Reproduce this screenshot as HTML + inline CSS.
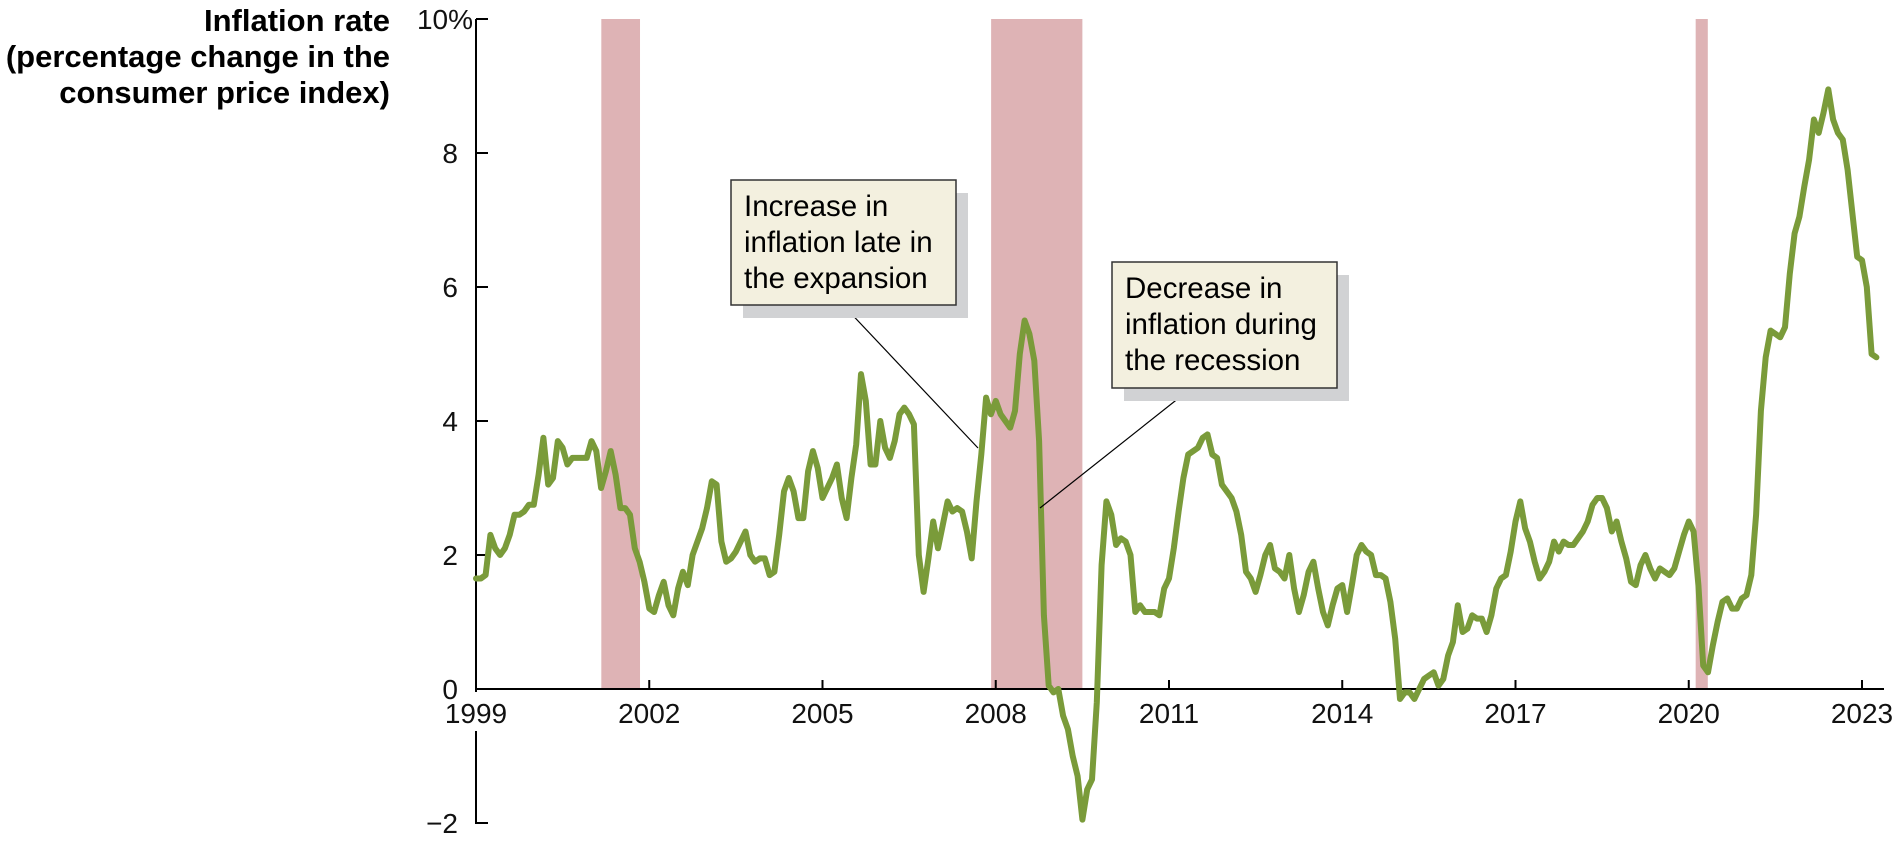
<!DOCTYPE html>
<html><head><meta charset="utf-8"><style>
html,body{margin:0;padding:0;background:#fff;}
svg{display:block;font-family:"Liberation Sans",Arial,sans-serif;}
</style></head><body>
<svg id="chart" width="1899" height="841" viewBox="0 0 1899 841">
<g id="rec"></g>
<g id="axes"></g>
<g id="series"></g>
<g id="notes"></g>
</svg>
<script>
const startYear = 1999;
const inflation = [
1.65,1.65,1.7,2.3,2.1,2.0,2.1,2.3,2.6,2.6,2.65,2.75,
2.75,3.2,3.75,3.05,3.15,3.7,3.6,3.35,3.45,3.45,3.45,3.45,
3.7,3.55,3.0,3.25,3.55,3.2,2.7,2.7,2.6,2.1,1.9,1.6,
1.2,1.15,1.4,1.6,1.25,1.1,1.5,1.75,1.55,2.0,2.2,2.4,
2.7,3.1,3.05,2.2,1.9,1.95,2.05,2.2,2.35,2.0,1.9,1.95,
1.95,1.7,1.75,2.3,2.95,3.15,2.95,2.55,2.55,3.25,3.55,3.3,
2.85,3.0,3.15,3.35,2.85,2.55,3.15,3.65,4.7,4.3,3.35,3.35,
4.0,3.6,3.45,3.7,4.1,4.2,4.1,3.95,2.0,1.45,1.95,2.5,
2.1,2.45,2.8,2.65,2.7,2.65,2.35,1.95,2.8,3.5,4.35,4.1,
4.3,4.1,4.0,3.9,4.15,5.0,5.5,5.3,4.9,3.7,1.1,0.05,
-0.05,0.0,-0.4,-0.6,-1.0,-1.3,-1.95,-1.5,-1.35,-0.2,1.85,2.8,
2.6,2.15,2.25,2.2,2.0,1.15,1.25,1.15,1.15,1.15,1.1,1.5,
1.65,2.1,2.65,3.15,3.5,3.55,3.6,3.75,3.8,3.5,3.45,3.05,
2.95,2.85,2.65,2.3,1.75,1.65,1.45,1.7,2.0,2.15,1.8,1.75,
1.65,2.0,1.5,1.15,1.4,1.75,1.9,1.5,1.15,0.95,1.25,1.5,
1.55,1.15,1.55,2.0,2.15,2.05,2.0,1.7,1.7,1.65,1.3,0.75,
-0.15,-0.05,-0.05,-0.15,0.0,0.15,0.2,0.25,0.05,0.15,0.5,0.7,
1.25,0.85,0.9,1.1,1.05,1.05,0.85,1.1,1.5,1.65,1.7,2.05,
2.5,2.8,2.4,2.2,1.9,1.65,1.75,1.9,2.2,2.05,2.2,2.15,
2.15,2.25,2.35,2.5,2.75,2.85,2.85,2.7,2.35,2.5,2.2,1.95,
1.6,1.55,1.85,2.0,1.8,1.65,1.8,1.75,1.7,1.8,2.05,2.3,
2.5,2.35,1.55,0.35,0.25,0.65,1.0,1.3,1.35,1.2,1.2,1.35,
1.4,1.7,2.6,4.15,4.95,5.35,5.3,5.25,5.4,6.2,6.8,7.05,
7.5,7.9,8.5,8.3,8.6,8.95,8.5,8.3,8.2,7.75,7.1,6.45,
6.4,6.0,5.0,4.95
];
const recStarts = [2001.17, 2007.92, 2020.12];
const recEnds = [2001.84, 2009.5, 2020.33];
const yTicks = [-2, 0, 2, 4, 6, 8, 10];
const yTickLabels = ["\u22122", "0", "2", "4", "6", "8", "10%"];
const xTicks = [1999, 2002, 2005, 2008, 2011, 2014, 2017, 2020, 2023];
const xTickLabels = ["1999","2002","2005","2008","2011","2014","2017","2020","2023"];

const X0 = 476, PX_YEAR = 57.75, Y0 = 689, PX_UNIT = 67;
const xs = t => X0 + (t - startYear) * PX_YEAR;
const ys = v => Y0 - v * PX_UNIT;
const NS = "http://www.w3.org/2000/svg";
function mk(tag, parent) { const e = document.createElementNS(NS, tag); parent.appendChild(e); return e; }
function at(e, o) { for (const k in o) e.setAttribute(k, o[k]); return e; }

const rec = document.getElementById('rec');
recStarts.forEach((s, i) => {
  const r = mk('rect', rec);
  at(r, {x: xs(s), y: ys(10), width: xs(recEnds[i]) - xs(s), height: ys(0) - ys(10), fill: '#deb3b5'});
  
  
});

const ax = document.getElementById('axes');
let l = mk('line', ax); at(l, {x1: X0, y1: ys(10), x2: X0, y2: 692, stroke: '#000', 'stroke-width': 2});
 
l = mk('line', ax); at(l, {x1: X0, y1: 731, x2: X0, y2: ys(-2) + 1, stroke: '#000', 'stroke-width': 2});
 
l = mk('line', ax); at(l, {x1: X0, y1: Y0, x2: 1884, y2: Y0, stroke: '#000', 'stroke-width': 2});
 

yTicks.forEach((v, i) => {
  if (v !== 0) {
    const t = mk('line', ax); at(t, {x1: X0, y1: ys(v), x2: X0 + 12, y2: ys(v), stroke: '#000', 'stroke-width': 2});
     
  }
  const tx = mk('text', ax);
  const isTop = v === 10;
  at(tx, {x: isTop ? 473 : 458, y: ys(v) + 10, 'text-anchor': 'end', 'font-size': 28, fill: '#111'});
  tx.textContent = yTickLabels[i];
   
});
xTicks.forEach((yr, i) => {
  if (i > 0) {
    const t = mk('line', ax); at(t, {x1: xs(yr), y1: Y0, x2: xs(yr), y2: Y0 - 9, stroke: '#000', 'stroke-width': 2});
     
  }
  const tx = mk('text', ax);
  at(tx, {x: xs(yr), y: 723, 'text-anchor': 'middle', 'font-size': 28, fill: '#111'});
  tx.textContent = xTickLabels[i];
   
});
const titleLines = ["Inflation rate", "(percentage change in the", "consumer price index)"];
titleLines.forEach((s, i) => {
  const tx = mk('text', ax);
  at(tx, {x: 390, y: 31 + i * 36, 'text-anchor': 'end', 'font-size': 31, 'font-weight': 'bold', fill: '#000'});
  tx.textContent = s;
   
});

const ser = document.getElementById('series');
const pts = inflation.map((v, i) => xs(startYear + i / 12).toFixed(1) + ',' + ys(v).toFixed(1)).join(' ');
const pl = mk('polyline', ser);
at(pl, {points: pts, fill: 'none', stroke: '#7a9b3a', 'stroke-width': 6, 'stroke-linejoin': 'round', 'stroke-linecap': 'round'});
 

const notes = document.getElementById('notes');
function note(x, y, w, h, lines, lx1, ly1, lx2, ly2, name) {
  const g = mk('g', notes);
   
  at(mk('line', g), {x1: lx1, y1: ly1, x2: lx2, y2: ly2, stroke: '#000', 'stroke-width': 1.2});
  at(mk('rect', g), {x: x + 12, y: y + 13, width: w, height: h, fill: '#d1d2d4'});
  at(mk('rect', g), {x: x, y: y, width: w, height: h, fill: '#f3f0df', stroke: '#333', 'stroke-width': 1.5});
  lines.forEach((s, i) => {
    const t = mk('text', g);
    at(t, {x: x + 13, y: y + 36 + i * 36, 'font-size': 29.5, fill: '#000'});
    t.textContent = s;
  });
}
note(731, 180, 225, 125, ["Increase in", "inflation late in", "the expansion"], 843, 305, 978, 448, 'annotation-increase');
note(1112, 262, 225, 126, ["Decrease in", "inflation during", "the recession"], 1194, 386, 1040, 508, 'annotation-decrease');
</script>
</body></html>
